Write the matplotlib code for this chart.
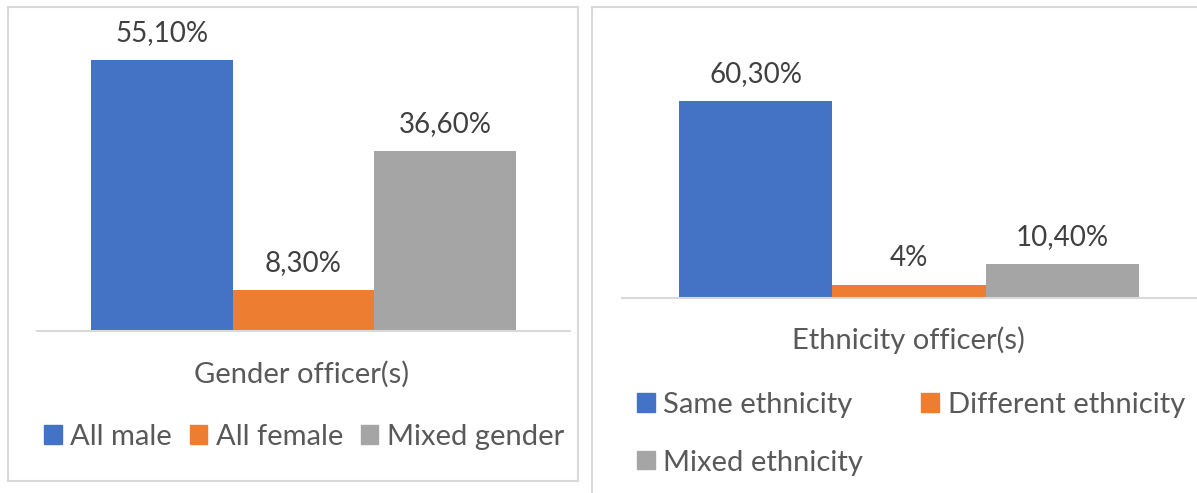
import matplotlib
matplotlib.use("Agg")
import matplotlib.pyplot as plt
from matplotlib.patches import Patch, Rectangle

plt.rcParams['font.family'] = ['Lato', 'DejaVu Sans']

# gender of officer(s)
gender_labels = ['All male', 'All female', 'Mixed gender']
gender_values = [55.1, 8.3, 36.6]
gender_text = ['55,10%', '8,30%', '36,60%']

# ethnicity of officer(s)
ethnic_labels = ['Same ethnicity', 'Different ethnicity', 'Mixed ethnicity']
ethnic_values = [60.3, 4.0, 10.4]
ethnic_text = ['60,30%', '4%', '10,40%']

colors = ['#4472C4', '#ED7D31', '#A5A5A5']
text_col = '#595959'
line_col = '#D9D9D9'

W, H = 1197, 493
fig = plt.figure(figsize=(W / 100, H / 100), dpi=100)


def box(x0, y0, x1, y1):
    # pixel box (top-left origin) -> figure fraction rect
    return [x0 / W, 1 - y1 / H, (x1 - x0) / W, (y1 - y0) / H]


def fx(x, y):
    return (x / W, 1 - y / H)


# panel frames
fig.patches.append(Rectangle(fx(8, 481), 570 / W, 474 / H, transform=fig.transFigure,
                             fill=False, ec=line_col, lw=1.5))
fig.patches.append(Rectangle(fx(592, 520), 700 / W, 513 / H, transform=fig.transFigure,
                             fill=False, ec=line_col, lw=1.5))


def draw(ax, values, texts, ymax, xlim):
    x = range(len(values))
    ax.bar(x, values, width=1.0, color=colors)
    ax.set_xlim(*xlim)
    ax.set_ylim(0, ymax)
    for xi, v, t in zip(x, values, texts):
        ax.annotate(t, (xi, v), xytext=(0, 19.5), textcoords='offset points',
                    ha='center', va='center', fontsize=20, color='#404040',
                    annotation_clip=False)
    for s in ['top', 'right', 'left']:
        ax.spines[s].set_visible(False)
    ax.spines['bottom'].set_color(line_col)
    ax.spines['bottom'].set_linewidth(1.5)
    ax.set_xticks([])
    ax.set_yticks([])
    ax.patch.set_alpha(0)


ax1 = fig.add_axes(box(37, 36, 570, 331))
draw(ax1, gender_values, gender_text, 60, (-0.885, 2.885))
ax2 = fig.add_axes(box(622, 69, 1196, 298))
draw(ax2, ethnic_values, ethnic_text, 70, (-0.872, 2.872))

fig.text(*fx(302, 374), 'Gender officer(s)', ha='center', va='center',
         fontsize=21, color=text_col)
fig.text(*fx(908, 340), 'Ethnicity officer(s)', ha='center', va='center',
         fontsize=21, color=text_col)

leg_kw = dict(frameon=False, fontsize=21, labelcolor=text_col,
              handlelength=0.6, handleheight=0.6, handletextpad=0.3,
              borderpad=0, borderaxespad=0)

h1 = [Patch(color=c, label=l) for c, l in zip(colors, gender_labels)]
fig.legend(handles=h1, loc='center left', bbox_to_anchor=fx(44, 437), ncol=3,
           columnspacing=0.6, **leg_kw)

# two columns, filled row by row
h2 = [Patch(color=c, label=l) for c, l in zip(colors, ethnic_labels)]
h2 = [h2[0], h2[2], h2[1]]
fig.legend(handles=h2, loc='upper left', bbox_to_anchor=fx(637, 392), ncol=2,
           columnspacing=2.0, labelspacing=1.08, **leg_kw)

fig.savefig('out.png', dpi=100)
